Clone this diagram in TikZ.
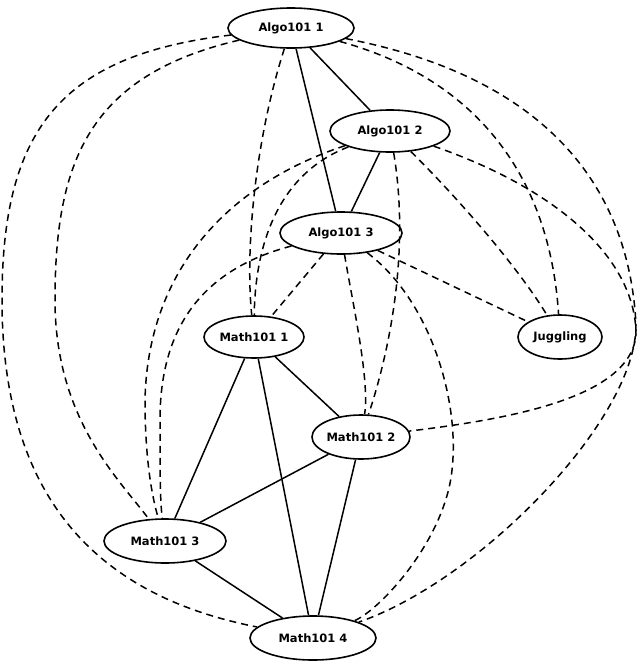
\documentclass[tikz,border=0pt]{standalone}
\usepackage{fontspec}
\setmainfont{DejaVu Sans}
\usetikzlibrary{shapes.geometric}
\begin{document}
\begin{tikzpicture}[x=1pt,y=-1pt,
  nd/.style={draw,ellipse,line width=1.6pt,inner sep=0pt,font=\fontsize{11.5}{13}\selectfont\bfseries},
  sol/.style={line width=1.5pt},
  dsh/.style={line width=1.5pt,dash pattern=on 7pt off 5pt}]
\useasboundingbox (0,0) rectangle (640,667);
\node[nd,minimum width=126pt,minimum height=40pt] (A1) at (291,28) {Algo101 1};
\node[nd,minimum width=120pt,minimum height=42pt] (A2) at (390,131) {Algo101 2};
\node[nd,minimum width=122pt,minimum height=42pt] (A3) at (341,233) {Algo101 3};
\node[nd,minimum width=100pt,minimum height=42pt] (M1) at (254,337) {Math101 1};
\node[nd,minimum width=84pt,minimum height=44pt] (J) at (560,337) {Juggling};
\node[nd,minimum width=98pt,minimum height=44pt] (M2) at (361,437) {Math101 2};
\node[nd,minimum width=122pt,minimum height=44pt] (M3) at (165,541) {Math101 3};
\node[nd,minimum width=126pt,minimum height=44pt] (M4) at (313,638) {Math101 4};
\coordinate (p1) at (2,300);
\coordinate (p2) at (55,300);
\coordinate (p3) at (636,325);
\coordinate (p4) at (636,335);
\coordinate (p5) at (145,400);
\coordinate (p6) at (160,420);
\coordinate (p7) at (452,470);
% solid
\draw[sol] (A1)--(A2); \draw[sol] (A1)--(A3); \draw[sol] (A2)--(A3);
\draw[sol] (M1)--(M2); \draw[sol] (M1)--(M3); \draw[sol] (M1)--(M4);
\draw[sol] (M2)--(M3); \draw[sol] (M2)--(M4); \draw[sol] (M3)--(M4);
% dashed
\draw[dsh] (A1) .. controls (60,55) and (2,130) .. (p1) .. controls (2,520) and (120,600) .. (M4);
\draw[dsh] (A1) .. controls (90,75) and (55,160) .. (p2) .. controls (55,420) and (120,480) .. (M3);
\draw[dsh] (A1) .. controls (255,140) and (245,250) .. (M1);
\draw[dsh] (A1) .. controls (480,80) and (550,180) .. (J);
\draw[dsh] (A1) .. controls (560,80) and (630,200) .. (p3) .. controls (636,420) and (480,580) .. (M4);
\draw[dsh] (A2) .. controls (560,190) and (636,260) .. (p4) .. controls (630,400) and (500,420) .. (M2);
\draw[dsh] (A2) .. controls (460,200) and (520,270) .. (J);
\draw[dsh] (A2) .. controls (410,250) and (390,350) .. (M2);
\draw[dsh] (A2) .. controls (275,175) and (255,250) .. (M1);
\draw[dsh] (A2) .. controls (240,180) and (148,260) .. (p5) .. controls (145,450) and (150,490) .. (M3);
\draw[dsh] (A3) .. controls (200,270) and (160,330) .. (p6) .. controls (160,470) and (160,500) .. (M3);
\draw[dsh] (A3) -- (M1);
\draw[dsh] (A3) -- (J);
\draw[dsh] (A3) .. controls (352,300) and (370,380) .. (M2);
\draw[dsh] (A3) .. controls (430,300) and (460,400) .. (p7) .. controls (445,540) and (380,610) .. (M4);
\end{tikzpicture}
\end{document}
